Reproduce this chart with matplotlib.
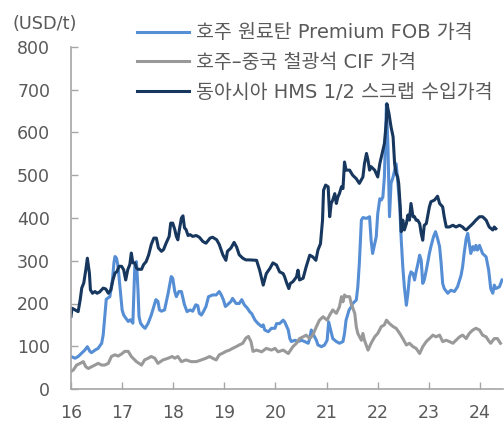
import matplotlib
matplotlib.use("Agg")
import matplotlib.pyplot as plt

# ---- data (decimal year, USD/t) ----
coal_x = [16.00,16.08,16.14,16.21,16.27,16.32,16.37,16.40,16.47,16.53,16.60,16.63,16.66,16.69,16.76,16.81,16.84,16.86,16.89,16.92,
          16.95,17.00,17.03,17.07,17.12,17.16,17.21,17.25,17.28,17.31,17.33,17.36,17.41,17.45,17.51,17.57,17.62,17.66,17.70,17.73,
          17.77,17.83,17.90,17.96,17.99,18.03,18.06,18.11,18.16,18.19,18.22,18.27,18.33,18.38,18.44,18.48,18.51,18.55,18.59,18.64,
          18.69,18.77,18.84,18.90,18.94,18.98,19.02,19.06,19.13,19.16,19.23,19.29,19.34,19.39,19.45,19.50,19.53,19.60,19.66,19.73,
          19.76,19.79,19.86,19.92,19.99,20.02,20.08,20.15,20.18,20.25,20.28,20.31,20.38,20.44,20.51,20.57,20.64,20.67,20.70,20.73,
          20.80,20.83,20.90,20.96,21.01,21.04,21.08,21.12,21.19,21.25,21.32,21.35,21.38,21.44,21.48,21.51,21.58,21.61,21.64,21.68,
          21.71,21.78,21.81,21.84,21.87,21.90,21.94,21.97,22.00,22.04,22.07,22.10,22.13,22.17,22.20,22.23,22.26,22.30,22.36,22.39,
          22.43,22.46,22.49,22.52,22.56,22.59,22.62,22.65,22.69,22.72,22.75,22.78,22.82,22.85,22.88,22.91,22.95,22.98,23.01,23.04,
          23.09,23.13,23.17,23.21,23.24,23.27,23.30,23.37,23.43,23.50,23.56,23.63,23.66,23.69,23.73,23.76,23.79,23.82,23.86,23.89,
          23.92,23.95,23.99,24.05,24.12,24.17,24.21,24.25,24.28,24.31,24.38,24.43]
coal_y = [76,72,76,84,91,99,88,85,91,95,107,127,170,210,216,255,295,310,306,287,
          248,185,173,166,158,162,154,295,298,232,170,154,146,142,154,173,193,209,205,185,
          182,185,224,263,259,228,216,228,228,212,197,181,185,182,197,195,177,173,181,193,
          216,220,220,228,220,209,193,197,205,212,200,200,209,197,189,180,177,161,153,146,
          150,138,134,142,142,153,153,161,157,138,118,111,114,111,114,111,107,118,138,130,
          114,103,99,103,114,157,138,118,111,107,111,130,161,185,192,200,208,239,294,395,
          401,399,401,403,348,317,340,356,410,445,442,449,496,667,566,403,481,496,527,488,
          426,348,286,239,196,224,262,274,270,255,274,290,313,301,247,255,278,297,317,333,
          356,368,352,333,294,247,235,224,231,228,239,266,286,317,352,364,340,317,333,325,
          336,325,336,317,309,278,235,224,243,235,239,255]

ore_x = [16.00,16.05,16.11,16.18,16.24,16.29,16.34,16.40,16.47,16.53,16.60,16.66,16.73,16.79,16.86,16.92,16.99,17.05,17.12,17.18,
         17.28,17.38,17.44,17.51,17.57,17.64,17.70,17.80,17.90,17.98,18.03,18.09,18.16,18.25,18.35,18.45,18.55,18.64,18.71,18.77,
         18.84,18.90,18.97,19.03,19.10,19.16,19.23,19.29,19.36,19.42,19.47,19.52,19.56,19.63,19.73,19.82,19.92,19.99,20.05,20.15,
         20.25,20.34,20.41,20.47,20.54,20.60,20.67,20.73,20.80,20.86,20.93,21.01,21.06,21.12,21.19,21.25,21.29,21.32,21.35,21.38,
         21.45,21.48,21.55,21.58,21.61,21.68,21.71,21.74,21.81,21.87,21.94,22.00,22.07,22.13,22.17,22.23,22.30,22.36,22.43,22.49,
         22.56,22.62,22.69,22.75,22.82,22.88,22.95,23.01,23.08,23.14,23.21,23.27,23.34,23.40,23.47,23.53,23.60,23.66,23.73,23.79,
         23.86,23.92,23.99,24.05,24.12,24.18,24.21,24.28,24.34,24.40]
ore_y = [41,45,56,60,64,52,48,52,56,60,56,56,60,76,80,77,82,88,88,76,
         64,56,68,72,76,72,60,68,72,76,72,76,64,68,64,64,68,72,76,72,
         68,80,84,88,91,95,99,103,107,119,123,111,88,91,87,95,91,95,87,91,
         83,99,107,118,122,126,118,126,146,161,169,161,173,185,177,192,216,204,220,216,
         216,200,177,146,130,114,130,114,91,107,122,130,146,150,161,153,146,142,130,118,
         103,107,99,95,83,99,111,118,126,122,126,111,114,111,107,114,122,126,118,130,
         138,142,138,126,122,111,107,118,118,107]

scrap_x = [16.00,16.02,16.08,16.14,16.18,16.21,16.25,16.29,16.32,16.36,16.38,16.42,16.47,16.51,16.56,16.63,16.68,16.73,16.78,16.82,
           16.86,16.90,16.94,16.99,17.03,17.07,17.11,17.15,17.18,17.21,17.25,17.28,17.31,17.38,17.42,17.47,17.52,17.57,17.62,17.67,
           17.71,17.77,17.81,17.86,17.92,17.95,17.99,18.03,18.06,18.09,18.12,18.16,18.19,18.22,18.25,18.29,18.33,18.38,18.45,18.51,
           18.58,18.64,18.72,18.77,18.85,18.90,18.97,19.03,19.06,19.13,19.19,19.24,19.29,19.36,19.42,19.49,19.63,19.69,19.76,19.82,
           19.89,19.95,20.02,20.08,20.15,20.18,20.21,20.26,20.29,20.34,20.41,20.44,20.47,20.54,20.60,20.67,20.73,20.79,20.83,20.88,
           20.92,20.94,20.98,21.03,21.06,21.09,21.12,21.16,21.19,21.22,21.25,21.29,21.32,21.35,21.38,21.45,21.51,21.58,21.64,21.71,
           21.74,21.78,21.81,21.84,21.87,21.94,22.00,22.04,22.07,22.10,22.13,22.17,22.18,22.22,22.26,22.30,22.33,22.36,22.39,22.41,
           22.44,22.46,22.49,22.52,22.56,22.59,22.62,22.65,22.69,22.72,22.75,22.78,22.82,22.85,22.88,22.91,22.95,23.01,23.04,23.11,
           23.17,23.21,23.24,23.27,23.30,23.34,23.40,23.47,23.53,23.60,23.66,23.69,23.73,23.79,23.86,23.92,23.99,24.05,24.12,24.18,
           24.25,24.28,24.31]
scrap_y = [170,189,185,181,209,236,248,279,306,271,232,224,228,224,227,236,234,224,232,255,
           271,275,287,287,279,255,279,291,318,295,295,283,280,280,291,298,314,338,353,353,
           330,322,326,341,357,388,388,373,357,349,373,400,405,377,373,359,361,357,359,355,
           345,341,353,355,349,338,314,301,322,330,343,332,314,306,302,302,301,278,243,270,
           282,295,290,274,270,262,251,235,247,251,262,278,255,259,286,313,309,301,325,340,
           395,465,477,473,403,434,442,457,434,449,457,473,469,531,512,512,500,492,481,496,
           527,551,535,512,520,512,496,527,543,558,574,628,667,644,613,590,527,504,496,481,
           426,368,395,372,387,407,395,434,403,403,395,395,387,364,348,383,387,426,438,442,
           451,434,430,426,403,379,379,383,379,383,379,375,372,379,387,395,403,403,395,379,
           372,379,375]

labels = ["호주 원료탄 Premium FOB 가격", "호주–중국 철광석 CIF 가격", "동아시아 HMS 1/2 스크랩 수입가격"]
colors = ["#558ED5", "#999999", "#17375E"]
xticks = [16, 17, 18, 19, 20, 21, 22, 23, 24]
yticks = [0, 100, 200, 300, 400, 500, 600, 700, 800]

FONT = ["DejaVu Sans", "Noto Sans CJK KR"]
plt.rcParams["font.family"] = FONT
TXT = "#595959"
SPINE = "#A6A6A6"

fig = plt.figure(figsize=(5.04, 4.26), dpi=100)
ax = fig.add_axes([71/504, 37/426, 432/504, 342/426])

ax.plot(coal_x, coal_y, color=colors[0], lw=2.2, label=labels[0], solid_joinstyle="round")
ax.plot(ore_x, ore_y, color=colors[1], lw=2.2, label=labels[1], solid_joinstyle="round")
ax.plot(scrap_x, scrap_y, color=colors[2], lw=2.2, label=labels[2], solid_joinstyle="round")

ax.set_xlim(16, 24.45)
ax.set_ylim(0, 800)
ax.set_xticks(xticks)
ax.set_xticklabels([str(t) for t in xticks])
ax.set_yticks(yticks)
ax.tick_params(axis="both", direction="in", length=5, width=1, color=SPINE,
               labelsize=12.5, labelcolor=TXT)
ax.tick_params(axis="y", pad=15)
ax.tick_params(axis="x", pad=10.5)
for s in ["top", "right"]:
    ax.spines[s].set_visible(False)
for s in ["left", "bottom"]:
    ax.spines[s].set_color(SPINE)
    ax.spines[s].set_linewidth(1.2)

fig.text(12/504, 1 - 24/426, "(USD/t)", fontsize=12.8, color=TXT, va="center", ha="left")

leg = ax.legend(loc="upper left", bbox_to_anchor=(137/504, 1 - 23.5/426), bbox_transform=fig.transFigure,
                frameon=False, fontsize=14, handlelength=2.68, handletextpad=0.33, labelspacing=0.54,
                borderpad=0, borderaxespad=0)
for t in leg.get_texts():
    t.set_color(TXT)

fig.savefig("out.png", dpi=100)
